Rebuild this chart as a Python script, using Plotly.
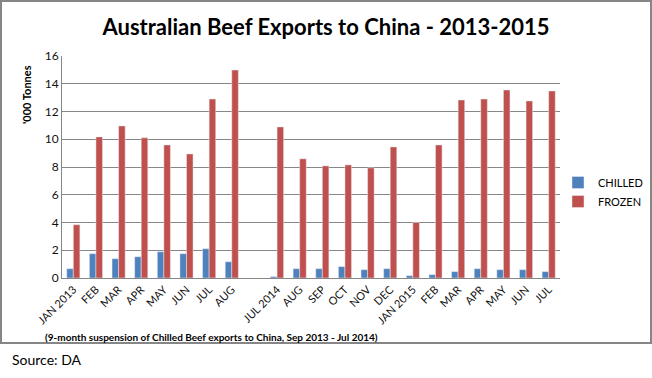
import plotly.graph_objects as go

months = ["JAN 2013", "FEB", "MAR", "APR", "MAY", "JUN", "JUL", "AUG", "",
          "JUL 2014", "AUG", "SEP", "OCT", "NOV", "DEC",
          "JAN 2015", "FEB", "MAR", "APR", "MAY", "JUN", "JUL"]
chilled = [0.67, 1.75, 1.39, 1.53, 1.89, 1.75, 2.11, 1.17, None,
           0.10, 0.67, 0.67, 0.82, 0.60, 0.67,
           0.17, 0.24, 0.46, 0.67, 0.60, 0.60, 0.46]
frozen = [3.84, 10.17, 10.96, 10.10, 9.59, 8.94, 12.90, 14.99, None,
          10.89, 8.59, 8.08, 8.15, 7.94, 9.45,
          4.00, 9.59, 12.83, 12.90, 13.55, 12.76, 13.48]
y_ticks = [0, 2, 4, 6, 8, 10, 12, 14, 16]

pos = list(range(len(months)))

W, H = 652, 378
L, R, T, B = 62, 560, 56, 278

def px(x):
    return (x - L) / (R - L)

def py(y):
    return (B - y) / (B - T)

fig = go.Figure()
fig.add_trace(go.Bar(x=pos, y=chilled, name="CHILLED", marker_color="#4F81BD"))
fig.add_trace(go.Bar(x=pos, y=frozen, name="FROZEN", marker_color="#C0504D"))

font_family = "Lato, 'Open Sans', sans-serif"

fig.update_layout(
    width=W, height=H,
    margin=dict(l=L, r=W - R, t=T, b=H - B, pad=0, autoexpand=False),
    paper_bgcolor="white", plot_bgcolor="white",
    barmode="group", bargap=0.42, bargroupgap=0,
    font=dict(family=font_family, size=11, color="#111"),
    title=dict(text="<b>Australian Beef Exports to China - 2013-2015</b>",
               x=0.5, xref="container", xanchor="center",
               y=1 - 27 / H, yanchor="middle", yref="container",
               font=dict(size=22, color="#000", family=font_family)),
    showlegend=True,
    legend=dict(x=px(558), y=py(192), xanchor="left", yanchor="middle",
                font=dict(size=11, color="#000"), tracegroupgap=6,
                itemwidth=30, bgcolor="rgba(0,0,0,0)"),
    xaxis=dict(range=[-0.5, len(months) - 0.5], tickmode="array",
               tickvals=pos, ticktext=months, tickangle=-45,
               showgrid=False, showline=True, linecolor="#868686",
               ticks="", tickfont=dict(size=11, color="#111"), zeroline=False),
    yaxis=dict(range=[0, 16], tickvals=y_ticks, showgrid=True,
               gridcolor="#868686", gridwidth=1, showline=True,
               linecolor="#868686", ticks="", ticklen=0,
               tickfont=dict(size=12, color="#111"), zeroline=False),
)

fig.add_annotation(text="<b>'000 Tonnes</b>", textangle=-90,
                   x=px(26), y=py(95), xref="paper", yref="paper",
                   showarrow=False, font=dict(size=11, color="#000"),
                   xanchor="center", yanchor="middle")
fig.add_annotation(text="<b>(9-month suspension of Chilled Beef exports to China, Sep 2013 - Jul 2014)</b>",
                   x=px(43), y=py(337), xref="paper", yref="paper",
                   showarrow=False, font=dict(size=10, color="#000"),
                   xanchor="left", yanchor="middle")
fig.add_annotation(text="Source: DA",
                   x=px(10), y=py(359), xref="paper", yref="paper",
                   showarrow=False, font=dict(size=14, color="#000"),
                   xanchor="left", yanchor="middle")

fig.add_shape(type="rect", xref="paper", yref="paper",
              x0=px(1), x1=px(651), y0=py(343), y1=py(1),
              line=dict(color="#868686", width=2), fillcolor="rgba(0,0,0,0)",
              layer="below")

fig.write_html("out.html", config={"displayModeBar": False},
               post_script="document.body.style.margin='0';document.body.style.overflow='hidden';")
